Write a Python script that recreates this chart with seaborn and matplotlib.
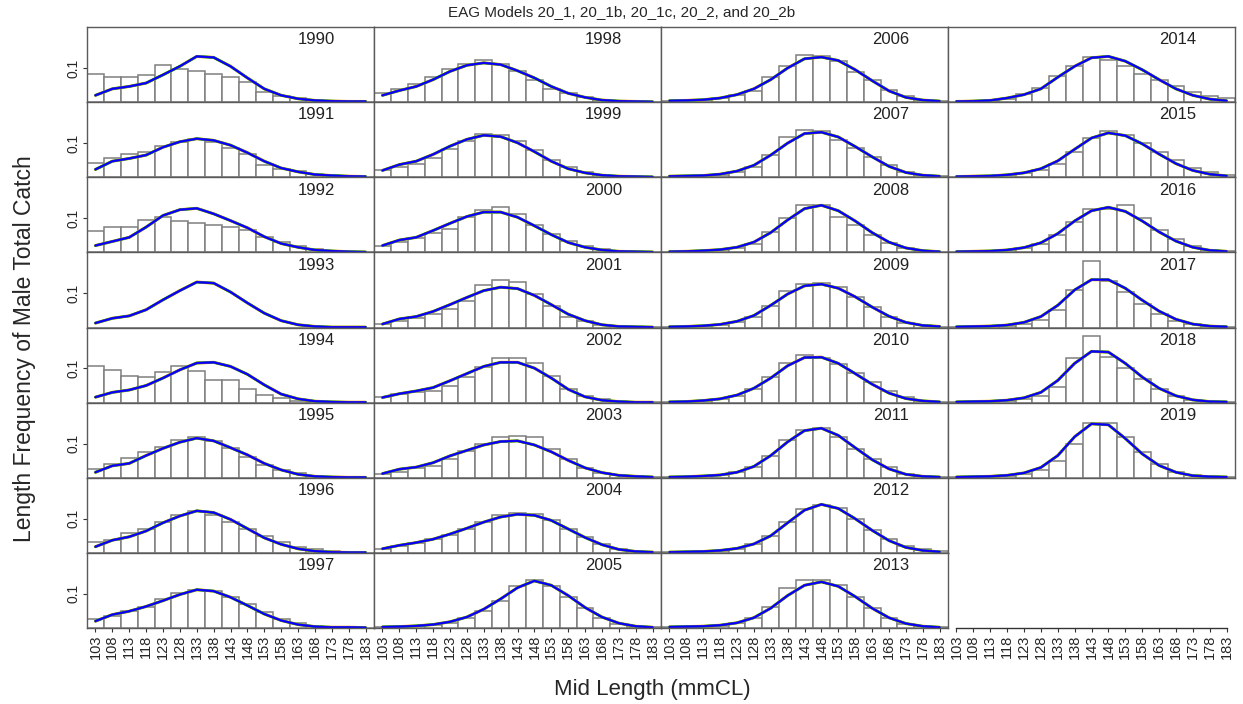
import matplotlib
matplotlib.use("Agg")
import matplotlib.pyplot as plt
import seaborn as sns

# length bins (mid length, mmCL) and survey years
lengths = [103, 108, 113, 118, 123, 128, 133, 138, 143, 148, 153, 158, 163, 168, 173, 178, 183]
years = list(range(1990, 2020))

# the five model fits overlap almost exactly, so one curve is read per year
models = ["20_1", "20_1b", "20_1c", "20_2", "20_2b"]
model_colors = ["#ffa500", "#00b400", "#00a5a5", "#7a00b4", "#0000ff"]
model_widths = [2.2, 1.9, 1.7, 1.5, 1.2]

# observed length frequencies (bars), one row per year
observed = [
    [0.082, 0.074, 0.074, 0.080, 0.108, 0.097, 0.092, 0.082, 0.074, 0.059, 0.029, 0.019, 0.012, 0.006, 0.004, 0.002, 0.001],  # 1990
    [0.042, 0.057, 0.069, 0.074, 0.091, 0.104, 0.111, 0.104, 0.086, 0.067, 0.037, 0.025, 0.018, 0.010, 0.006, 0.003, 0.001],  # 1991
    [0.064, 0.075, 0.075, 0.095, 0.105, 0.091, 0.086, 0.081, 0.074, 0.066, 0.044, 0.029, 0.020, 0.010, 0.005, 0.002, 0.001],  # 1992
    [0.000, 0.000, 0.000, 0.000, 0.000, 0.000, 0.000, 0.000, 0.000, 0.000, 0.000, 0.000, 0.000, 0.000, 0.000, 0.000, 0.000],  # 1993
    [0.106, 0.096, 0.079, 0.076, 0.091, 0.106, 0.093, 0.067, 0.065, 0.040, 0.023, 0.013, 0.005, 0.002, 0.001, 0.001, 0.000],  # 1994
    [0.027, 0.039, 0.057, 0.075, 0.091, 0.111, 0.118, 0.108, 0.086, 0.062, 0.037, 0.023, 0.013, 0.006, 0.003, 0.001, 0.000],  # 1995
    [0.031, 0.039, 0.057, 0.071, 0.090, 0.110, 0.123, 0.110, 0.090, 0.069, 0.049, 0.031, 0.018, 0.010, 0.004, 0.002, 0.001],  # 1996
    [0.025, 0.036, 0.049, 0.061, 0.085, 0.102, 0.112, 0.108, 0.092, 0.071, 0.046, 0.026, 0.014, 0.007, 0.002, 0.001, 0.001],  # 1997
    [0.026, 0.039, 0.053, 0.073, 0.098, 0.112, 0.122, 0.112, 0.090, 0.066, 0.039, 0.026, 0.015, 0.007, 0.003, 0.002, 0.001],  # 1998
    [0.020, 0.029, 0.039, 0.057, 0.084, 0.106, 0.128, 0.125, 0.106, 0.081, 0.052, 0.029, 0.016, 0.008, 0.003, 0.002, 0.001],  # 1999
    [0.020, 0.029, 0.042, 0.056, 0.069, 0.103, 0.123, 0.134, 0.111, 0.081, 0.054, 0.034, 0.020, 0.010, 0.005, 0.002, 0.001],  # 2000
    [0.010, 0.020, 0.029, 0.039, 0.055, 0.079, 0.124, 0.138, 0.133, 0.099, 0.062, 0.032, 0.018, 0.008, 0.003, 0.002, 0.001],  # 2001
    [0.015, 0.025, 0.032, 0.034, 0.049, 0.075, 0.103, 0.132, 0.132, 0.115, 0.078, 0.039, 0.020, 0.010, 0.004, 0.002, 0.001],  # 2002
    [0.010, 0.018, 0.029, 0.034, 0.054, 0.078, 0.098, 0.120, 0.123, 0.118, 0.083, 0.054, 0.029, 0.015, 0.007, 0.003, 0.001],  # 2003
    [0.012, 0.020, 0.030, 0.040, 0.052, 0.070, 0.090, 0.110, 0.118, 0.115, 0.095, 0.070, 0.045, 0.025, 0.010, 0.004, 0.002],  # 2004
    [0.002, 0.003, 0.005, 0.008, 0.015, 0.028, 0.050, 0.080, 0.122, 0.140, 0.122, 0.090, 0.058, 0.030, 0.012, 0.004, 0.002],  # 2005
    [0.002, 0.005, 0.007, 0.012, 0.022, 0.033, 0.075, 0.105, 0.137, 0.134, 0.120, 0.088, 0.066, 0.036, 0.017, 0.007, 0.004],  # 2006
    [0.002, 0.003, 0.005, 0.008, 0.016, 0.030, 0.065, 0.118, 0.138, 0.135, 0.110, 0.085, 0.060, 0.035, 0.015, 0.006, 0.003],  # 2007
    [0.002, 0.003, 0.004, 0.007, 0.013, 0.025, 0.060, 0.100, 0.140, 0.140, 0.105, 0.080, 0.050, 0.028, 0.012, 0.005, 0.002],  # 2008
    [0.002, 0.003, 0.004, 0.008, 0.015, 0.032, 0.062, 0.108, 0.128, 0.130, 0.118, 0.090, 0.060, 0.032, 0.014, 0.006, 0.002],  # 2009
    [0.002, 0.003, 0.005, 0.010, 0.020, 0.040, 0.075, 0.115, 0.138, 0.130, 0.112, 0.088, 0.060, 0.035, 0.015, 0.006, 0.003],  # 2010
    [0.002, 0.003, 0.004, 0.008, 0.016, 0.032, 0.065, 0.110, 0.140, 0.145, 0.120, 0.085, 0.055, 0.030, 0.012, 0.005, 0.002],  # 2011
    [0.002, 0.003, 0.004, 0.006, 0.012, 0.025, 0.050, 0.090, 0.128, 0.140, 0.132, 0.100, 0.068, 0.040, 0.020, 0.010, 0.005],  # 2012
    [0.002, 0.003, 0.004, 0.007, 0.014, 0.030, 0.060, 0.118, 0.140, 0.140, 0.125, 0.090, 0.058, 0.030, 0.012, 0.005, 0.002],  # 2013
    [0.001, 0.002, 0.004, 0.010, 0.025, 0.041, 0.077, 0.105, 0.132, 0.122, 0.105, 0.082, 0.066, 0.046, 0.029, 0.017, 0.012],  # 2014
    [0.001, 0.002, 0.003, 0.006, 0.012, 0.022, 0.040, 0.075, 0.115, 0.135, 0.125, 0.100, 0.075, 0.050, 0.028, 0.014, 0.006],  # 2015
    [0.001, 0.002, 0.003, 0.006, 0.012, 0.025, 0.052, 0.090, 0.128, 0.128, 0.138, 0.100, 0.065, 0.038, 0.018, 0.008, 0.004],  # 2016
    [0.001, 0.002, 0.003, 0.005, 0.010, 0.022, 0.052, 0.110, 0.195, 0.135, 0.105, 0.070, 0.040, 0.020, 0.009, 0.004, 0.002],  # 2017
    [0.001, 0.002, 0.003, 0.005, 0.010, 0.020, 0.045, 0.130, 0.194, 0.135, 0.100, 0.070, 0.040, 0.020, 0.008, 0.004, 0.002],  # 2018
    [0.001, 0.002, 0.003, 0.005, 0.010, 0.022, 0.048, 0.100, 0.160, 0.160, 0.120, 0.075, 0.040, 0.018, 0.008, 0.004, 0.002],  # 2019
]

# model predicted length frequencies (lines)
fitted = [
    [0.020, 0.039, 0.046, 0.056, 0.080, 0.105, 0.134, 0.131, 0.105, 0.071, 0.039, 0.020, 0.010, 0.005, 0.003, 0.002, 0.002],  # 1990
    [0.023, 0.047, 0.055, 0.065, 0.088, 0.104, 0.113, 0.108, 0.094, 0.072, 0.047, 0.027, 0.016, 0.008, 0.005, 0.003, 0.002],  # 1991
    [0.020, 0.032, 0.044, 0.074, 0.108, 0.125, 0.129, 0.113, 0.093, 0.072, 0.046, 0.026, 0.015, 0.007, 0.004, 0.002, 0.001],  # 1992
    [0.013, 0.027, 0.034, 0.052, 0.081, 0.108, 0.133, 0.130, 0.104, 0.072, 0.042, 0.020, 0.008, 0.003, 0.001, 0.001, 0.001],  # 1993
    [0.016, 0.030, 0.037, 0.050, 0.072, 0.096, 0.116, 0.118, 0.106, 0.083, 0.052, 0.025, 0.011, 0.004, 0.002, 0.001, 0.001],  # 1994
    [0.016, 0.035, 0.042, 0.065, 0.086, 0.104, 0.116, 0.108, 0.088, 0.067, 0.042, 0.023, 0.010, 0.004, 0.002, 0.001, 0.001],  # 1995
    [0.018, 0.037, 0.047, 0.064, 0.088, 0.108, 0.123, 0.118, 0.098, 0.071, 0.044, 0.025, 0.012, 0.005, 0.002, 0.001, 0.001],  # 1996
    [0.020, 0.039, 0.049, 0.063, 0.080, 0.098, 0.112, 0.108, 0.090, 0.066, 0.041, 0.022, 0.010, 0.004, 0.002, 0.002, 0.001],  # 1997
    [0.020, 0.034, 0.046, 0.066, 0.090, 0.108, 0.115, 0.110, 0.092, 0.071, 0.046, 0.026, 0.014, 0.006, 0.003, 0.002, 0.001],  # 1998
    [0.020, 0.037, 0.047, 0.067, 0.091, 0.111, 0.123, 0.119, 0.101, 0.075, 0.047, 0.025, 0.013, 0.006, 0.003, 0.002, 0.001],  # 1999
    [0.020, 0.036, 0.044, 0.064, 0.085, 0.105, 0.118, 0.118, 0.103, 0.078, 0.052, 0.029, 0.015, 0.007, 0.003, 0.002, 0.001],  # 2000
    [0.010, 0.025, 0.032, 0.047, 0.067, 0.088, 0.108, 0.118, 0.114, 0.094, 0.067, 0.039, 0.020, 0.008, 0.003, 0.002, 0.001],  # 2001
    [0.015, 0.026, 0.034, 0.044, 0.064, 0.085, 0.106, 0.118, 0.118, 0.101, 0.072, 0.039, 0.017, 0.007, 0.003, 0.001, 0.001],  # 2002
    [0.012, 0.025, 0.031, 0.044, 0.064, 0.080, 0.096, 0.106, 0.108, 0.096, 0.076, 0.051, 0.029, 0.015, 0.007, 0.004, 0.002],  # 2003
    [0.012, 0.022, 0.030, 0.040, 0.055, 0.072, 0.090, 0.105, 0.113, 0.110, 0.095, 0.070, 0.045, 0.024, 0.010, 0.004, 0.002],  # 2004
    [0.003, 0.004, 0.006, 0.010, 0.018, 0.032, 0.055, 0.085, 0.118, 0.138, 0.125, 0.095, 0.060, 0.032, 0.014, 0.005, 0.002],  # 2005
    [0.004, 0.005, 0.007, 0.012, 0.022, 0.039, 0.066, 0.100, 0.127, 0.132, 0.122, 0.095, 0.063, 0.033, 0.014, 0.006, 0.003],  # 2006
    [0.003, 0.004, 0.005, 0.009, 0.018, 0.035, 0.065, 0.100, 0.128, 0.132, 0.118, 0.090, 0.060, 0.032, 0.014, 0.006, 0.003],  # 2007
    [0.002, 0.003, 0.005, 0.008, 0.015, 0.030, 0.058, 0.095, 0.128, 0.138, 0.122, 0.092, 0.058, 0.030, 0.013, 0.005, 0.002],  # 2008
    [0.002, 0.003, 0.005, 0.009, 0.018, 0.035, 0.065, 0.098, 0.122, 0.127, 0.115, 0.090, 0.060, 0.033, 0.015, 0.006, 0.003],  # 2009
    [0.002, 0.003, 0.006, 0.011, 0.022, 0.042, 0.072, 0.108, 0.132, 0.133, 0.115, 0.085, 0.054, 0.028, 0.012, 0.005, 0.002],  # 2010
    [0.002, 0.003, 0.005, 0.008, 0.016, 0.033, 0.065, 0.105, 0.138, 0.145, 0.124, 0.088, 0.053, 0.026, 0.010, 0.004, 0.002],  # 2011
    [0.002, 0.003, 0.004, 0.007, 0.013, 0.026, 0.050, 0.088, 0.125, 0.142, 0.130, 0.100, 0.066, 0.036, 0.016, 0.007, 0.003],  # 2012
    [0.003, 0.004, 0.005, 0.008, 0.015, 0.030, 0.058, 0.095, 0.125, 0.135, 0.122, 0.092, 0.058, 0.030, 0.013, 0.005, 0.002],  # 2013
    [0.002, 0.003, 0.005, 0.012, 0.022, 0.039, 0.073, 0.105, 0.130, 0.134, 0.120, 0.095, 0.066, 0.039, 0.020, 0.009, 0.004],  # 2014
    [0.002, 0.003, 0.004, 0.007, 0.013, 0.025, 0.048, 0.082, 0.115, 0.130, 0.122, 0.098, 0.068, 0.040, 0.020, 0.009, 0.004],  # 2015
    [0.002, 0.003, 0.004, 0.007, 0.014, 0.028, 0.055, 0.092, 0.122, 0.132, 0.120, 0.092, 0.060, 0.033, 0.015, 0.006, 0.003],  # 2016
    [0.002, 0.003, 0.004, 0.007, 0.015, 0.032, 0.065, 0.110, 0.140, 0.140, 0.115, 0.080, 0.048, 0.024, 0.010, 0.004, 0.002],  # 2017
    [0.002, 0.003, 0.004, 0.007, 0.014, 0.030, 0.065, 0.115, 0.150, 0.148, 0.115, 0.075, 0.042, 0.020, 0.008, 0.003, 0.002],  # 2018
    [0.002, 0.003, 0.004, 0.007, 0.014, 0.030, 0.065, 0.120, 0.158, 0.155, 0.115, 0.070, 0.036, 0.016, 0.006, 0.003, 0.002],  # 2019
]

sns.set_theme(style="white")
plt.rcParams["font.family"] = ["Liberation Sans", "DejaVu Sans"]

fig, axes = plt.subplots(8, 4, figsize=(12.43, 7.04), dpi=100, sharex=True, sharey=True,
                         gridspec_kw=dict(left=0.070, right=0.9936, top=0.9616, bottom=0.108,
                                          hspace=0, wspace=0))

frame_col = "#5a5a5a"
for i, year in enumerate(years):
    col, row = divmod(i, 8)
    ax = axes[row, col]
    sns.barplot(x=lengths, y=observed[i], native_scale=True, width=1, color="white",
                saturation=1, edgecolor="#7f7f7f", linewidth=1.1, errorbar=None, ax=ax)
    for c, w in zip(model_colors, model_widths):
        sns.lineplot(x=lengths, y=fitted[i], color=c, linewidth=w, ax=ax)
    ax.text(0.865, 0.83, str(year), transform=ax.transAxes, ha="right", va="center",
            fontsize=12, color="#222222")

for ax in axes.flat:
    for s in ax.spines.values():
        s.set_color(frame_col)
        s.set_linewidth(1.0)
    ax.set_facecolor("white")

axes[0, 0].set_xlim(100.5, 185.5)
axes[0, 0].set_ylim(0, 0.22)
axes[0, 0].set_xticks(lengths)
axes[0, 0].set_yticks([0.1])

for r in range(8):
    for c in range(4):
        ax = axes[r, c]
        bottom_row = (r == 7)
        ax.tick_params(axis="x", bottom=bottom_row, length=3, width=0.8, color="#333333",
                       labelbottom=bottom_row, labelrotation=90, labelsize=10.5, pad=2)
        ax.tick_params(axis="y", left=(c == 0), length=3, width=0.8, color="#333333",
                       labelleft=(c == 0), labelsize=10, pad=2)
        if c == 0:
            ax.set_yticklabels(["0.1"], rotation=90, va="center")

# empty slots in the last column
axes[6, 3].axis("off")
last = axes[7, 3]
last.patch.set_visible(False)
for side in ["top", "left", "right"]:
    last.spines[side].set_visible(False)
last.spines["bottom"].set_bounds(lengths[0], lengths[-1])
last.spines["bottom"].set_color("#333333")

fig.text(0.5, 1 - 12 / 704, "EAG Models 20_1, 20_1b, 20_1c, 20_2, and 20_2b",
         ha="center", va="center", fontsize=11)
fig.text(652 / 1243, 1 - 690 / 704, "Mid Length (mmCL)", ha="center", va="center", fontsize=16)
fig.text(25 / 1243, 1 - 349 / 704, "Length Frequency of Male Total Catch",
         ha="center", va="center", rotation=90, fontsize=16.5)

plt.savefig("out.png", dpi=100)
